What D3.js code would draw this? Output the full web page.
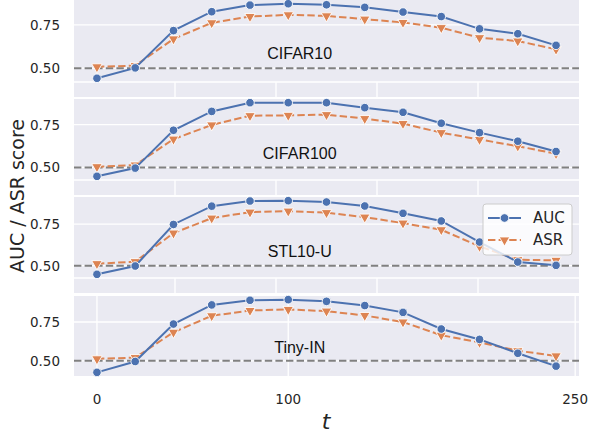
<!DOCTYPE html>
<html>
<head>
<meta charset="utf-8">
<script src="https://cdn.jsdelivr.net/npm/d3@7"></script>
<style>
  body { margin: 0; background: #fff; }
  svg { display: block; }
</style>
</head>
<body>
<div id="chart"></div>
<script>
// values
const steps = [0, 20, 40, 60, 80, 100, 120, 140, 160, 180, 200, 220, 240];
const datasets = ["CIFAR10", "CIFAR100", "STL10-U", "Tiny-IN"];
const aucValues = [
    [0.442, 0.502, 0.717, 0.826, 0.864, 0.872, 0.866, 0.851, 0.824, 0.798, 0.727, 0.699, 0.632],
    [0.448, 0.496, 0.717, 0.827, 0.878, 0.878, 0.878, 0.849, 0.822, 0.758, 0.703, 0.653, 0.593],
    [0.448, 0.498, 0.748, 0.858, 0.889, 0.891, 0.883, 0.859, 0.815, 0.769, 0.642, 0.522, 0.502],
    [0.426, 0.496, 0.737, 0.860, 0.890, 0.894, 0.883, 0.856, 0.812, 0.705, 0.638, 0.549, 0.466]
];
const asrValues = [
    [0.508, 0.515, 0.669, 0.762, 0.798, 0.808, 0.802, 0.783, 0.764, 0.734, 0.676, 0.657, 0.609],
    [0.504, 0.514, 0.665, 0.748, 0.802, 0.804, 0.808, 0.785, 0.756, 0.703, 0.663, 0.624, 0.580],
    [0.512, 0.524, 0.696, 0.786, 0.822, 0.828, 0.819, 0.792, 0.756, 0.716, 0.616, 0.536, 0.532],
    [0.513, 0.521, 0.684, 0.790, 0.824, 0.831, 0.820, 0.792, 0.750, 0.665, 0.619, 0.565, 0.532]
];
const xTicks = [0, 100, 250];
const yTicks = [0.50, 0.75];
const chanceLevel = 0.5;

const width = 592;
const height = 433;
const left = 74, right = 579;
const panelTops = [0, 99, 197, 296];
const plotHeights = [82, 81, 81, 80];   // data area of each panel
const stripHeight = 15;                 // empty band under panels 1-3

const blue = "#4C72B0";
const orange = "#DD8452";
const bg = "#EAEAF2";
const textColor = "#262626";

const svg = d3.select("#chart")
    .append("svg")
    .attr("width", width)
    .attr("height", height)
    .style("font-family", "'DejaVu Sans', sans-serif");

const x = d3.scaleLinear()
    .domain([-12, 252])
    .range([left, right]);

const tri = d3.symbol().type(d3.symbolTriangle).size(48);

datasets.forEach((name, i) => {
    const top = panelTops[i];
    const bottom = top + plotHeights[i];
    const last = i === datasets.length - 1;
    const g = svg.append("g");

    // 5% margin like matplotlib autoscale
    const all = aucValues[i].concat(asrValues[i]);
    const [lo, hi] = d3.extent(all);
    const pad = (hi - lo) * 0.05;
    const y = d3.scaleLinear()
        .domain([lo - pad, hi + pad])
        .range([bottom, top]);

    // background (panels 1-3 carry an extra empty strip below)
    g.append("rect")
        .attr("x", left)
        .attr("y", top)
        .attr("width", right - left)
        .attr("height", plotHeights[i] + (last ? 0 : stripHeight))
        .attr("fill", bg);

    if (!last) {
        g.append("line")
            .attr("x1", left).attr("x2", right)
            .attr("y1", bottom).attr("y2", bottom)
            .attr("stroke", "#fff").attr("stroke-width", 1.3);
        // gridlines of the empty underlying axes (0.2 ... 0.8)
        const frac = d3.scaleLinear().domain([0, 1]).range([left, right]);
        g.selectAll(".vstrip")
            .data([0.2, 0.4, 0.6, 0.8])
            .enter().append("line")
            .attr("x1", d => frac(d)).attr("x2", d => frac(d))
            .attr("y1", bottom).attr("y2", bottom + stripHeight)
            .attr("stroke", "#fff").attr("stroke-width", 1.3);
    } else {
        g.selectAll(".vgrid")
            .data(xTicks)
            .enter().append("line")
            .attr("x1", d => x(d)).attr("x2", d => x(d))
            .attr("y1", top).attr("y2", bottom)
            .attr("stroke", "#fff").attr("stroke-width", 1.3);
    }

    // horizontal gridlines + tick labels
    g.selectAll(".hgrid")
        .data(yTicks)
        .enter().append("line")
        .attr("x1", left).attr("x2", right)
        .attr("y1", d => y(d)).attr("y2", d => y(d))
        .attr("stroke", "#fff").attr("stroke-width", 1.3);

    g.selectAll(".ylab")
        .data(yTicks)
        .enter().append("text")
        .attr("x", 60)
        .attr("y", d => y(d))
        .attr("text-anchor", "end")
        .attr("dominant-baseline", "central")
        .style("font-size", "13.5px")
        .attr("fill", textColor)
        .text(d => d.toFixed(2));

    // chance level
    g.append("line")
        .attr("x1", left).attr("x2", right)
        .attr("y1", y(chanceLevel)).attr("y2", y(chanceLevel))
        .attr("stroke", "#808080")
        .attr("stroke-width", 2)
        .attr("stroke-dasharray", "7.4,3.2");

    // dataset name
    g.append("text")
        .attr("x", x(106))
        .attr("y", y(0.551))
        .attr("text-anchor", "middle")
        .style("font-family", "'Liberation Sans', Arial, sans-serif")
        .style("font-size", "16px")
        .attr("fill", "#111")
        .text(name);

    const line = d3.line()
        .x((d, k) => x(steps[k]))
        .y(d => y(d));

    // ASR (dashed, triangles)
    g.append("path")
        .datum(asrValues[i])
        .attr("d", line)
        .attr("fill", "none")
        .attr("stroke", orange)
        .attr("stroke-width", 2)
        .attr("stroke-dasharray", "7.4,3.2");

    g.selectAll(".asr")
        .data(asrValues[i])
        .enter().append("path")
        .attr("d", tri)
        .attr("transform", (d, k) => `translate(${x(steps[k])},${y(d)}) rotate(180)`)
        .attr("fill", orange)
        .attr("stroke", "#fff")
        .attr("stroke-width", 0.9);

    // AUC (solid, circles)
    g.append("path")
        .datum(aucValues[i])
        .attr("d", line)
        .attr("fill", "none")
        .attr("stroke", blue)
        .attr("stroke-width", 2);

    g.selectAll(".auc")
        .data(aucValues[i])
        .enter().append("circle")
        .attr("cx", (d, k) => x(steps[k]))
        .attr("cy", d => y(d))
        .attr("r", 4.3)
        .attr("fill", blue)
        .attr("stroke", "#fff")
        .attr("stroke-width", 0.9);
});

// x tick labels (bottom panel only)
svg.selectAll(".xlab")
    .data(xTicks)
    .enter().append("text")
    .attr("x", d => x(d))
    .attr("y", 404)
    .attr("text-anchor", "middle")
    .style("font-size", "13.5px")
    .attr("fill", textColor)
    .text(d => d);

// axis titles
svg.append("text")
    .attr("x", 326)
    .attr("y", 429)
    .attr("text-anchor", "middle")
    .style("font-size", "22px")
    .style("font-style", "italic")
    .attr("fill", textColor)
    .text("t");

svg.append("text")
    .attr("transform", "translate(24, 196) rotate(-90)")
    .attr("text-anchor", "middle")
    .style("font-size", "19px")
    .attr("fill", textColor)
    .text("AUC / ASR score");

// legend in the STL10-U panel
const legend = svg.append("g").attr("transform", "translate(483, 204)");
legend.append("rect")
    .attr("width", 89)
    .attr("height", 51)
    .attr("rx", 3)
    .attr("fill", "#fff")
    .attr("fill-opacity", 0.8)
    .attr("stroke", "#cccccc")
    .attr("stroke-width", 1);

const entries = [
    { label: "AUC", color: blue, dash: null, y: 14 },
    { label: "ASR", color: orange, dash: "7.4,3.2", y: 36 }
];
entries.forEach(e => {
    legend.append("line")
        .attr("x1", 5).attr("x2", 38)
        .attr("y1", e.y).attr("y2", e.y)
        .attr("stroke", e.color)
        .attr("stroke-width", 2)
        .attr("stroke-dasharray", e.dash);
    if (e.label === "AUC") {
        legend.append("circle")
            .attr("cx", 21.5).attr("cy", e.y).attr("r", 4.3)
            .attr("fill", e.color).attr("stroke", "#fff").attr("stroke-width", 0.9);
    } else {
        legend.append("path")
            .attr("d", tri)
            .attr("transform", `translate(21.5,${e.y}) rotate(180)`)
            .attr("fill", e.color).attr("stroke", "#fff").attr("stroke-width", 0.9);
    }
    legend.append("text")
        .attr("x", 50)
        .attr("y", e.y)
        .attr("dominant-baseline", "central")
        .style("font-size", "15px")
        .attr("fill", textColor)
        .text(e.label);
});
</script>
</body>
</html>
